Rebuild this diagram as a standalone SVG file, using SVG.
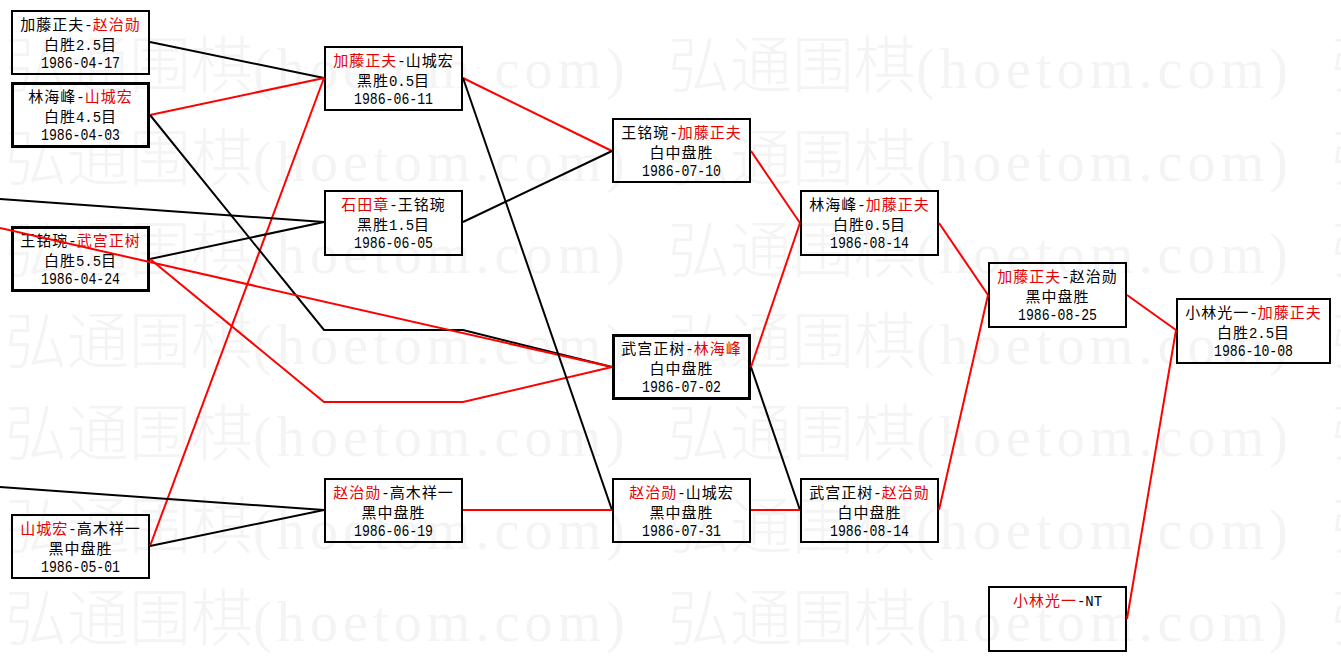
<svg xmlns="http://www.w3.org/2000/svg" xmlns:xlink="http://www.w3.org/1999/xlink" width="1341" height="661" viewBox="0 0 1341 661">
<style>
.bx{fill:none;stroke:#000;stroke-width:2}
.thick{stroke-width:3}
.t{font-family:"Noto Sans CJK SC",sans-serif;font-size:15px;fill:#000;text-anchor:middle;letter-spacing:1px}
.m{font-family:"Liberation Mono",monospace;font-size:14px;letter-spacing:0}
.d{font-family:"Liberation Mono",monospace;font-size:16px;fill:#000;text-anchor:middle}
.r{fill:#e60000}
.cb{fill:none;stroke:#000;stroke-width:2}
.cr{fill:none;stroke:#f00;stroke-width:2}
.wm{font-family:"Noto Sans CJK SC",sans-serif;font-size:62px;font-weight:300;fill:#f4f4f4}
.wmm{font-family:"Liberation Serif",serif;font-size:56px;font-weight:normal}
</style>
<defs>
<text id="wm" class="wm">弘通围棋<tspan class="wmm" textLength="372" lengthAdjust="spacing">(hoetom.com)</tspan></text>
</defs>
<rect x="0" y="0" width="1341" height="661" fill="#fff"/>
<g id="watermark">
<use href="#wm" x="5" y="88"/><use href="#wm" x="668" y="88"/><use href="#wm" x="1331" y="88"/>
<use href="#wm" x="5" y="181"/><use href="#wm" x="668" y="181"/><use href="#wm" x="1331" y="181"/>
<use href="#wm" x="5" y="273"/><use href="#wm" x="668" y="273"/><use href="#wm" x="1331" y="273"/>
<use href="#wm" x="5" y="364"/><use href="#wm" x="668" y="364"/><use href="#wm" x="1331" y="364"/>
<use href="#wm" x="5" y="456"/><use href="#wm" x="668" y="456"/><use href="#wm" x="1331" y="456"/>
<use href="#wm" x="5" y="549"/><use href="#wm" x="668" y="549"/><use href="#wm" x="1331" y="549"/>
<use href="#wm" x="5" y="641"/><use href="#wm" x="668" y="641"/><use href="#wm" x="1331" y="641"/>
</g>
<g id="nodes">
<g id="n-a"><rect class="bx" x="12" y="11" width="137" height="63"/>
<text class="t" x="80.5" y="30">加藤正夫<tspan class="m">-</tspan><tspan class="r">赵治勋</tspan></text>
<text class="t" x="80.5" y="50">白胜<tspan class="m">2.5</tspan>目</text>
<text class="d" x="80.5" y="68" textLength="79" lengthAdjust="spacingAndGlyphs">1986-04-17</text></g>
<g id="n-b"><rect class="bx thick" x="12.5" y="83.5" width="136" height="63"/>
<text class="t" x="80.5" y="102">林海峰<tspan class="m">-</tspan><tspan class="r">山城宏</tspan></text>
<text class="t" x="80.5" y="122">白胜<tspan class="m">4.5</tspan>目</text>
<text class="d" x="80.5" y="140" textLength="79" lengthAdjust="spacingAndGlyphs">1986-04-03</text></g>
<g id="n-c"><rect class="bx thick" x="12.5" y="227.5" width="136" height="63"/>
<text class="t" x="80.5" y="246">王铭琬<tspan class="m">-</tspan><tspan class="r">武宫正树</tspan></text>
<text class="t" x="80.5" y="266">白胜<tspan class="m">5.5</tspan>目</text>
<text class="d" x="80.5" y="284" textLength="79" lengthAdjust="spacingAndGlyphs">1986-04-24</text></g>
<g id="n-d"><rect class="bx" x="12" y="515" width="137" height="63"/>
<text class="t" x="80.5" y="534"><tspan class="r">山城宏</tspan><tspan class="m">-</tspan>高木祥一</text>
<text class="t" x="80.5" y="554">黑中盘胜</text>
<text class="d" x="80.5" y="572" textLength="79" lengthAdjust="spacingAndGlyphs">1986-05-01</text></g>
<g id="n-e"><rect class="bx" x="325" y="47" width="137" height="63"/>
<text class="t" x="393.5" y="66"><tspan class="r">加藤正夫</tspan><tspan class="m">-</tspan>山城宏</text>
<text class="t" x="393.5" y="86">黑胜<tspan class="m">0.5</tspan>目</text>
<text class="d" x="393.5" y="104" textLength="79" lengthAdjust="spacingAndGlyphs">1986-06-11</text></g>
<g id="n-f"><rect class="bx" x="325" y="191" width="137" height="64"/>
<text class="t" x="393.5" y="210"><tspan class="r">石田章</tspan><tspan class="m">-</tspan>王铭琬</text>
<text class="t" x="393.5" y="230">黑胜<tspan class="m">1.5</tspan>目</text>
<text class="d" x="393.5" y="248" textLength="79" lengthAdjust="spacingAndGlyphs">1986-06-05</text></g>
<g id="n-g"><rect class="bx" x="325" y="479" width="137" height="63"/>
<text class="t" x="393.5" y="498"><tspan class="r">赵治勋</tspan><tspan class="m">-</tspan>高木祥一</text>
<text class="t" x="393.5" y="518">黑中盘胜</text>
<text class="d" x="393.5" y="536" textLength="79" lengthAdjust="spacingAndGlyphs">1986-06-19</text></g>
<g id="n-h"><rect class="bx" x="613" y="119" width="137" height="63"/>
<text class="t" x="681.5" y="138">王铭琬<tspan class="m">-</tspan><tspan class="r">加藤正夫</tspan></text>
<text class="t" x="681.5" y="158">白中盘胜</text>
<text class="d" x="681.5" y="176" textLength="79" lengthAdjust="spacingAndGlyphs">1986-07-10</text></g>
<g id="n-i"><rect class="bx thick" x="613.5" y="335.5" width="136" height="63"/>
<text class="t" x="681.5" y="354">武宫正树<tspan class="m">-</tspan><tspan class="r">林海峰</tspan></text>
<text class="t" x="681.5" y="374">白中盘胜</text>
<text class="d" x="681.5" y="392" textLength="79" lengthAdjust="spacingAndGlyphs">1986-07-02</text></g>
<g id="n-j"><rect class="bx" x="801" y="191" width="137" height="64"/>
<text class="t" x="869.5" y="210">林海峰<tspan class="m">-</tspan><tspan class="r">加藤正夫</tspan></text>
<text class="t" x="869.5" y="230">白胜<tspan class="m">0.5</tspan>目</text>
<text class="d" x="869.5" y="248" textLength="79" lengthAdjust="spacingAndGlyphs">1986-08-14</text></g>
<g id="n-k"><rect class="bx" x="613" y="479" width="137" height="63"/>
<text class="t" x="681.5" y="498"><tspan class="r">赵治勋</tspan><tspan class="m">-</tspan>山城宏</text>
<text class="t" x="681.5" y="518">黑中盘胜</text>
<text class="d" x="681.5" y="536" textLength="79" lengthAdjust="spacingAndGlyphs">1986-07-31</text></g>
<g id="n-l"><rect class="bx" x="801" y="479" width="137" height="63"/>
<text class="t" x="869.5" y="498">武宫正树<tspan class="m">-</tspan><tspan class="r">赵治勋</tspan></text>
<text class="t" x="869.5" y="518">白中盘胜</text>
<text class="d" x="869.5" y="536" textLength="79" lengthAdjust="spacingAndGlyphs">1986-08-14</text></g>
<g id="n-m"><rect class="bx" x="989" y="263" width="137" height="64"/>
<text class="t" x="1057.5" y="282"><tspan class="r">加藤正夫</tspan><tspan class="m">-</tspan>赵治勋</text>
<text class="t" x="1057.5" y="302">黑中盘胜</text>
<text class="d" x="1057.5" y="320" textLength="79" lengthAdjust="spacingAndGlyphs">1986-08-25</text></g>
<g id="n-n"><rect class="bx" x="1177" y="299" width="153" height="64"/>
<text class="t" x="1253.5" y="318">小林光一<tspan class="m">-</tspan><tspan class="r">加藤正夫</tspan></text>
<text class="t" x="1253.5" y="338">白胜<tspan class="m">2.5</tspan>目</text>
<text class="d" x="1253.5" y="356" textLength="79" lengthAdjust="spacingAndGlyphs">1986-10-08</text></g>
<g id="n-o"><rect class="bx" x="989" y="587" width="137" height="64"/>
<text class="t" x="1057.5" y="606"><tspan class="r">小林光一</tspan><tspan class="m">-NT</tspan></text></g>
</g>
<g id="connectors">
<polyline class="cb" points="150,42 324,78"/>
<polyline class="cr" points="150,115 324,78" stroke-width="2.5"/>
<polyline class="cr" points="150,546 324,78"/>
<polyline class="cb" points="150,115 324,330 463,330 612,367"/>
<polyline class="cb" points="0,199 324,222"/>
<polyline class="cb" points="150,259 324,222"/>
<polyline class="cr" points="0,228 612,367"/>
<polyline class="cr" points="150,259 324,402 463,402 612,367"/>
<polyline class="cb" points="0,487 324,510"/>
<polyline class="cb" points="150,546 324,510"/>
<polyline class="cr" points="463,78 612,151"/>
<polyline class="cb" points="463,78 612,510"/>
<polyline class="cb" points="463,222 612,151"/>
<polyline class="cr" points="463,510 612,510"/>
<polyline class="cr" points="751,151 800,223"/>
<polyline class="cr" points="751,367 800,223"/>
<polyline class="cb" points="751,367 800,510"/>
<polyline class="cr" points="751,510 800,510"/>
<polyline class="cr" points="939,223 988,295"/>
<polyline class="cr" points="939,510 988,295"/>
<polyline class="cr" points="1127,295 1176,330"/>
<polyline class="cr" points="1127,619 1176,330"/>
</g>
</svg>
